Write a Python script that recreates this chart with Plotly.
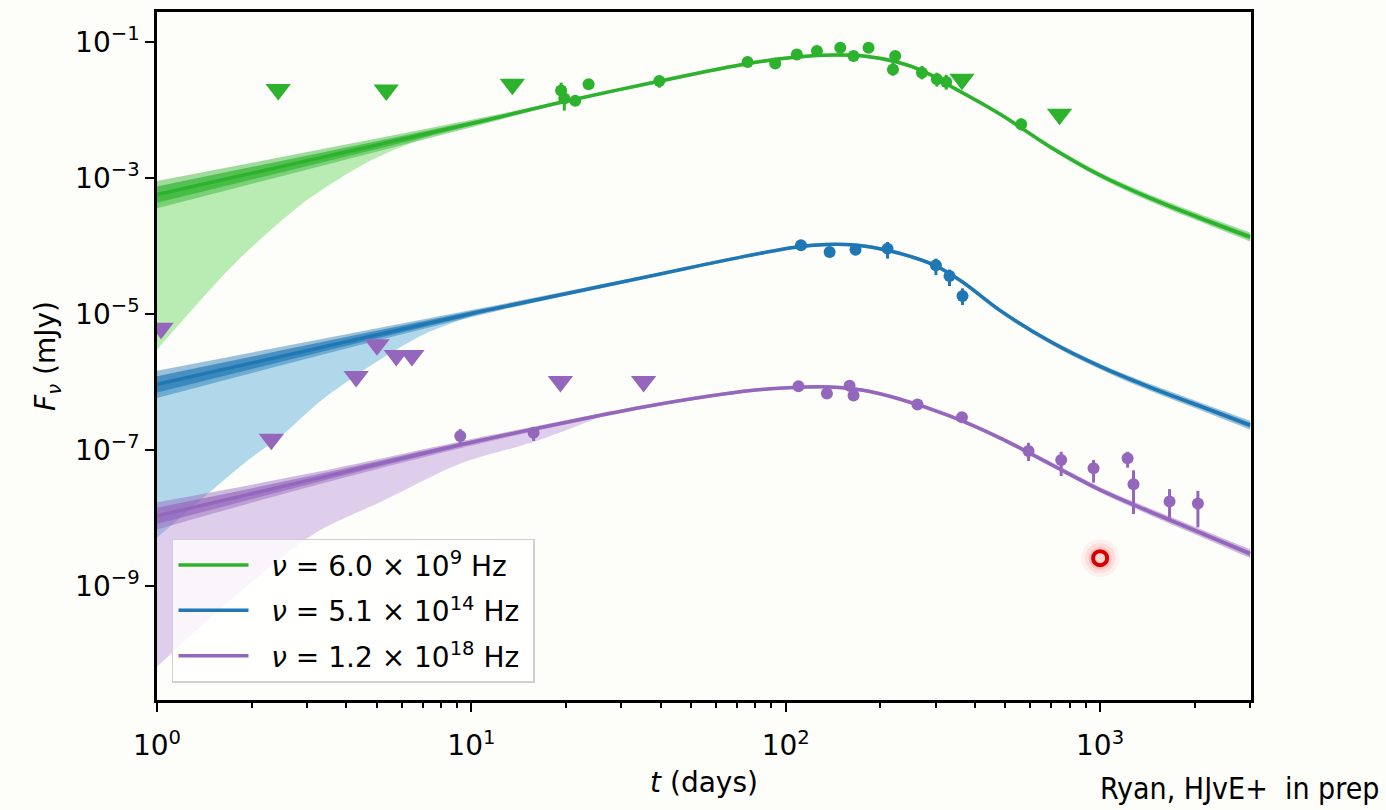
import numpy as np
import plotly.graph_objects as go

# ---------------- model curves (t in days, F in mJy) ----------------
green_t = [1, 10.67, 19.18, 39.9, 75.3, 108.5, 141.9, 176.8, 225.8, 273.7, 333.7, 481.2, 693.8, 1000, 1443, 2082, 3000]
green_F = [5.73e-4, 6.82e-3, 1.293e-2, 2.686e-2, 4.81e-2, 6.03e-2, 6.45e-2, 6.24e-2, 5.10e-2, 3.76e-2, 2.27e-2,
           8.72e-3, 2.886e-3, 1.105e-3, 5.09e-4, 2.59e-4, 1.368e-4]
green_inner_dex = [0.12, 0.03, 0.012, 0.012, 0.012, 0.012, 0.012, 0.012, 0.012, 0.012, 0.013, 0.015, 0.018, 0.02, 0.025, 0.03, 0.035]
green_outer_dex = [0.20, 0.05, 0.025, 0.025, 0.025, 0.025, 0.025, 0.025, 0.025, 0.025, 0.027, 0.03, 0.035, 0.04, 0.05, 0.055, 0.065]
green_wide_t = [1, 1.748, 2.856, 4.667, 7.564, 10.67]
green_wide_lo = [3.03e-6, 5.32e-5, 4.02e-4, 1.714e-3, 4.40e-3, 6.82e-3]

blue_t = [1, 10.67, 36.2, 75.3, 111.2, 135.2, 168.7, 209.9, 248.9, 300.4, 364.3, 481.2, 693.8, 1000, 1443, 2082, 3000]
blue_F = [9.33e-7, 1.092e-5, 3.555e-5, 7.21e-5, 9.93e-5, 1.062e-4, 1.034e-4, 8.74e-5, 7.09e-5, 5.15e-5, 3.00e-5,
          1.13e-5, 3.975e-6, 1.712e-6, 8.43e-7, 4.45e-7, 2.34e-7]
blue_inner_dex = [0.12, 0.03, 0.012, 0.012, 0.012, 0.012, 0.012, 0.012, 0.012, 0.012, 0.013, 0.015, 0.018, 0.02, 0.025, 0.03, 0.035]
blue_outer_dex = [0.20, 0.05, 0.025, 0.025, 0.025, 0.025, 0.025, 0.025, 0.025, 0.025, 0.027, 0.03, 0.035, 0.04, 0.05, 0.055, 0.065]
blue_wide_t = [1, 1.933, 2.522, 3.307, 4.656, 7.031, 10.67]
blue_wide_lo = [5.20e-9, 6.97e-8, 1.73e-7, 5.26e-7, 1.618e-6, 5.04e-6, 1.092e-5]

purple_t = [1, 2.985, 9.15, 15.74, 37.9, 78.8, 109.6, 138.5, 176.4, 231.3, 333.7, 481.2, 693.8, 1000, 1443, 2082, 3000]
purple_F = [1.09e-8, 3.55e-8, 1.195e-7, 2.048e-7, 4.60e-7, 7.62e-7, 8.43e-7, 8.52e-7, 7.62e-7, 5.63e-7, 3.175e-7,
            1.512e-7, 6.30e-8, 2.62e-8, 1.249e-8, 6.16e-9, 3.03e-9]
purple_inner_dex = [0.12, 0.06, 0.03, 0.02, 0.012, 0.012, 0.012, 0.012, 0.012, 0.012, 0.013, 0.015, 0.018, 0.02, 0.025, 0.03, 0.035]
purple_outer_dex = [0.20, 0.10, 0.05, 0.035, 0.025, 0.025, 0.025, 0.025, 0.025, 0.025, 0.027, 0.03, 0.035, 0.04, 0.05, 0.055, 0.065]
purple_wide_t = [1, 1.706, 3.16, 5.235, 9.153, 16.07, 28.2]
purple_wide_lo = [6.58e-11, 6.22e-10, 5.96e-9, 1.81e-8, 6.30e-8, 1.368e-7, 3.80e-7]

# ---------------- observations ----------------
green_obs_t = [19.3, 19.75, 21.4, 23.6, 39.6, 75.6, 92.6, 108.5, 125.7, 149.1, 164.3, 183.4, 219.3, 223, 271.2, 302.6, 324, 561]
green_obs_F = [1.94e-2, 1.48e-2, 1.37e-2, 2.40e-2, 2.69e-2, 5.10e-2, 4.86e-2, 6.58e-2, 7.38e-2, 8.25e-2, 6.24e-2,
               8.25e-2, 3.97e-2, 6.24e-2, 3.55e-2, 2.84e-2, 2.60e-2, 6.22e-3]
green_obs_hi = [2.54e-2, 1.94e-2, 1.37e-2, 2.40e-2, 3.21e-2, 5.10e-2, 4.86e-2, 6.58e-2, 7.38e-2, 8.25e-2, 6.24e-2,
                8.25e-2, 4.98e-2, 6.24e-2, 4.46e-2, 3.55e-2, 3.30e-2, 7.55e-3]
green_obs_lo = [1.29e-2, 9.86e-3, 1.37e-2, 2.40e-2, 2.14e-2, 5.10e-2, 4.86e-2, 6.58e-2, 7.38e-2, 8.25e-2, 6.24e-2,
                8.25e-2, 3.21e-2, 6.24e-2, 2.84e-2, 2.22e-2, 2.00e-2, 5.04e-3]
green_lim_t = [2.43, 5.36, 13.5, 363.5, 743]
green_lim_F = [2.02e-2, 1.98e-2, 2.40e-2, 2.84e-2, 8.72e-3]

blue_obs_t = [111.8, 137.9, 166.7, 210.8, 300.4, 331.9, 365]
blue_obs_F = [1.03e-4, 8.25e-5, 8.91e-5, 9.22e-5, 5.27e-5, 3.64e-5, 1.85e-5]
blue_obs_hi = [1.03e-4, 8.25e-5, 8.91e-5, 1.156e-4, 6.58e-5, 4.54e-5, 2.40e-5]
blue_obs_lo = [1.03e-4, 8.25e-5, 8.91e-5, 6.58e-5, 3.76e-5, 2.60e-5, 1.37e-5]

purple_obs_t = [9.22, 15.77, 109.8, 135.2, 159.6, 164.3, 262.5, 363.5, 592, 752, 953, 1223, 1277, 1663, 2047]
purple_obs_F = [1.62e-7, 1.81e-7, 8.72e-7, 6.82e-7, 8.93e-7, 6.38e-7, 4.71e-7, 3.07e-7, 9.76e-8, 7.21e-8, 5.45e-8,
                7.63e-8, 3.18e-8, 1.77e-8, 1.65e-8]
purple_obs_hi = [2.05e-7, 2.12e-7, 8.72e-7, 6.82e-7, 8.93e-7, 6.38e-7, 4.71e-7, 3.07e-7, 1.29e-7, 9.53e-8, 7.21e-8,
                 9.53e-8, 5.09e-8, 2.69e-8, 2.54e-8]
purple_obs_lo = [1.28e-7, 1.37e-7, 8.72e-7, 6.82e-7, 8.93e-7, 6.38e-7, 4.71e-7, 3.07e-7, 6.97e-8, 4.20e-8, 3.35e-8,
                 5.56e-8, 1.16e-8, 9.22e-9, 7.36e-9]
purple_lim_t = [1.03, 2.31, 4.30, 5.01, 5.77, 6.47, 19.2, 35.3]
purple_lim_F = [6.22e-6, 1.45e-7, 1.22e-6, 3.56e-6, 2.48e-6, 2.48e-6, 1.03e-6, 1.03e-6]

highlight_t = [1000]
highlight_F = [2.6e-9]

labels = ["&nbsp;&nbsp;<i>ν</i> = 6.0 × 10<sup>9</sup> Hz&nbsp;",
          "&nbsp;&nbsp;<i>ν</i> = 5.1 × 10<sup>14</sup> Hz&nbsp;",
          "&nbsp;&nbsp;<i>ν</i> = 1.2 × 10<sup>18</sup> Hz&nbsp;"]

x_ticks = [1, 10, 100, 1000]
x_ticktext = ["10<sup>0</sup>", "10<sup>1</sup>", "10<sup>2</sup>", "10<sup>3</sup>"]
y_ticks = [1e-9, 1e-7, 1e-5, 1e-3, 1e-1]
y_ticktext = ["10<sup>−9</sup>", "10<sup>−7</sup>", "10<sup>−5</sup>", "10<sup>−3</sup>", "10<sup>−1</sup>"]

# ---------------- styling ----------------
FONT = "DejaVu Sans, Verdana, sans-serif"
BG = "#fdfdfa"
series = [
    dict(t=green_t, F=green_F, inner=green_inner_dex, outer=green_outer_dex, wt=green_wide_t, wl=green_wide_lo,
         line="#2cb22c", wide="rgba(60,205,50,0.36)", outerc="rgba(44,178,44,0.45)", innerc="rgba(44,178,44,0.65)",
         ot=green_obs_t, oF=green_obs_F, ohi=green_obs_hi, olo=green_obs_lo, lt=green_lim_t, lF=green_lim_F),
    dict(t=blue_t, F=blue_F, inner=blue_inner_dex, outer=blue_outer_dex, wt=blue_wide_t, wl=blue_wide_lo,
         line="#1f77b4", wide="rgba(70,165,212,0.42)", outerc="rgba(31,119,180,0.45)", innerc="rgba(31,119,180,0.65)",
         ot=blue_obs_t, oF=blue_obs_F, ohi=blue_obs_hi, olo=blue_obs_lo, lt=[], lF=[]),
    dict(t=purple_t, F=purple_F, inner=purple_inner_dex, outer=purple_outer_dex, wt=purple_wide_t, wl=purple_wide_lo,
         line="#9467bd", wide="rgba(160,110,205,0.32)", outerc="rgba(148,103,189,0.45)", innerc="rgba(148,103,189,0.65)",
         ot=purple_obs_t, oF=purple_obs_F, ohi=purple_obs_hi, olo=purple_obs_lo, lt=purple_lim_t, lF=purple_lim_F),
]

fig = go.Figure()

# wide (early-time) uncertainty regions
for s in series:
    t = np.array(s["t"], float)
    F = np.array(s["F"], float)
    mask = t < s["wt"][-1]
    px = list(s["wt"]) + list(t[mask][::-1])
    py = list(s["wl"]) + list(F[mask][::-1])
    fig.add_trace(go.Scatter(x=px, y=py, mode="lines", fill="toself", fillcolor=s["wide"],
                             line=dict(width=0, color=s["wide"], shape="spline", smoothing=0.8),
                             showlegend=False, hoverinfo="skip"))

# narrow bands + lines
for i, s in enumerate(series):
    t = np.array(s["t"], float)
    F = np.array(s["F"], float)
    for key, col in (("outer", s["outerc"]), ("inner", s["innerc"])):
        w = 10 ** np.array(s[key], float)
        fig.add_trace(go.Scatter(x=t, y=F / w, mode="lines", line=dict(width=0, shape="spline", color=col),
                                 showlegend=False, hoverinfo="skip"))
        fig.add_trace(go.Scatter(x=t, y=F * w, mode="lines", line=dict(width=0, shape="spline", color=col),
                                 fill="tonexty", fillcolor=col, showlegend=False, hoverinfo="skip"))
    fig.add_trace(go.Scatter(x=t, y=F, mode="lines", name=labels[i],
                             line=dict(width=3.5, shape="spline", color=s["line"]),
                             showlegend=True, legendgroup=str(i)))

# observations
for s in series:
    oF = np.array(s["oF"], float)
    fig.add_trace(go.Scatter(
        x=s["ot"], y=oF, mode="markers",
        marker=dict(symbol="circle", size=12, color=s["line"]),
        error_y=dict(type="data", symmetric=False,
                     array=np.array(s["ohi"]) - oF, arrayminus=oF - np.array(s["olo"]),
                     thickness=3, width=0, color=s["line"]),
        showlegend=False, hoverinfo="skip"))
    if len(s["lt"]):
        fig.add_trace(go.Scatter(x=s["lt"], y=s["lF"], mode="markers",
                                 marker=dict(symbol="triangle-down", size=22, color=s["line"]),
                                 showlegend=False, hoverinfo="skip"))

# highlighted point with glow
for sz, a in ((38, 0.06), (30, 0.09), (23, 0.14), (18, 0.2)):
    fig.add_trace(go.Scatter(x=highlight_t, y=highlight_F, mode="markers",
                             marker=dict(size=sz, color=f"rgba(255,40,40,{a})", line=dict(width=0)),
                             showlegend=False, hoverinfo="skip"))
fig.add_trace(go.Scatter(x=highlight_t, y=highlight_F, mode="markers",
                         marker=dict(symbol="circle", size=14, color="#ffd6d6",
                                     line=dict(width=4, color="#d80000")),
                         showlegend=False, hoverinfo="skip"))

minor_x = [2, 3, 4, 5, 6, 7, 8, 9, 20, 30, 40, 50, 60, 70, 80, 90, 200, 300, 400, 500, 600, 700, 800, 900, 2000, 3000]

fig.update_layout(
    width=1386, height=810,
    paper_bgcolor=BG, plot_bgcolor=BG,
    margin=dict(l=157, r=135, t=9, b=110),
    font=dict(family=FONT, size=28, color="black"),
    showlegend=True,
    legend=dict(x=0.0137, y=0.2344, xanchor="left", yanchor="top",
                bgcolor="rgba(255,255,255,0.8)", bordercolor="#d0d0d0", borderwidth=1.5,
                font=dict(family=FONT, size=28), itemwidth=70, tracegroupgap=6),
    xaxis=dict(type="log", range=[0, 3.48], showgrid=False, zeroline=False,
               showline=True, linecolor="black", linewidth=2.5, mirror=True,
               ticks="outside", ticklen=9, tickwidth=2, tickcolor="black",
               tickmode="array", tickvals=x_ticks, ticktext=x_ticktext, ticklabelstandoff=10,
               minor=dict(ticks="outside", ticklen=5, tickwidth=1.5, tickcolor="black",
                          tickmode="array", tickvals=minor_x, showgrid=False),
               title=dict(text="<i>t</i> (days)", standoff=12, font=dict(size=28))),
    yaxis=dict(type="log", range=[-10.67, -0.557], showgrid=False, zeroline=False,
               showline=True, linecolor="black", linewidth=2.5, mirror=True,
               ticks="outside", ticklen=9, tickwidth=2, tickcolor="black",
               tickmode="array", tickvals=y_ticks, ticktext=y_ticktext,
               title=dict(text="<i>F</i><sub><i>ν</i></sub> (mJy)", standoff=12, font=dict(size=28))),
    annotations=[dict(text="Ryan, HJvE+  in prep", xref="paper", yref="paper",
                      x=1.119, y=-0.1565, xanchor="right", yanchor="bottom", showarrow=False,
                      font=dict(family="DejaVu Sans Condensed, Liberation Sans Narrow, DejaVu Sans", size=30))],
)

fig.write_html("out.html")
